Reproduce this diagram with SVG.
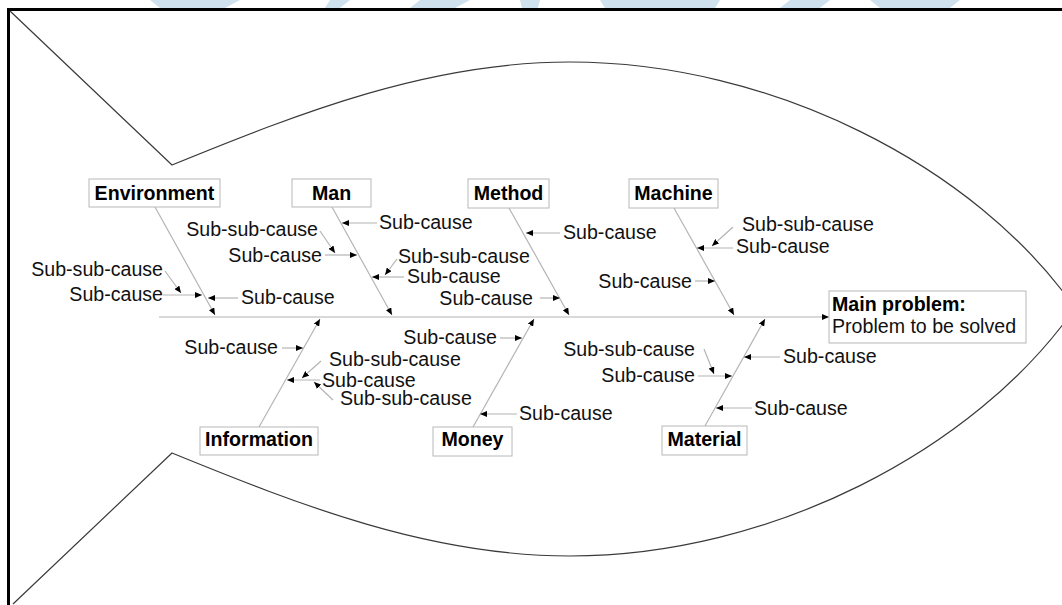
<svg xmlns="http://www.w3.org/2000/svg" width="1062" height="605" viewBox="0 0 1062 605">
<defs>
<marker id="ah" markerUnits="userSpaceOnUse" markerWidth="7" markerHeight="6" refX="7" refY="3" orient="auto"><path d="M0,0 L7,3 L0,6 z" fill="#000"/></marker>
<style>
.t{font-family:"Liberation Sans",Arial,sans-serif;font-size:19.6px;fill:#111}
.b{font-family:"Liberation Sans",Arial,sans-serif;font-size:19.6px;font-weight:bold;fill:#000}
.box{fill:#fff;stroke:#b8b8b8;stroke-width:1}
.bone{stroke:#b4b4b4;stroke-width:1.2;fill:none;marker-end:url(#ah)}
.sub{stroke:#b4b4b4;stroke-width:1.2;fill:none;marker-end:url(#ah)}
.fish{fill:none;stroke:#3a3a3a;stroke-width:1.2}
.e{text-anchor:end}
.m{text-anchor:middle}
</style>
</defs>
<rect width="1062" height="605" fill="#fff"/>
<g id="watermark" fill="#cfe1ed">
<path d="M150,0 L240,0 L225,8 L160,8 z"/>
<path d="M330,0 L350,0 L340,8 L325,8 z"/>
<path d="M420,0 L470,0 L455,8 L410,8 z"/>
<path d="M520,0 L540,0 L538,8 L522,8 z"/>
<path d="M600,0 L720,0 L715,8 L605,8 z"/>
<path d="M790,0 L830,0 L820,8 L780,8 z"/>
<path d="M870,0 L960,0 L950,8 L880,8 z"/>
</g>
<g id="frame" stroke="#000" stroke-width="3" fill="none">
<line x1="7" y1="9.5" x2="1062" y2="9.5"/>
<line x1="8.5" y1="8" x2="8.5" y2="605"/>
</g>
<g id="fish">
<path class="fish" d="M10,11 L172,165 C302,112 430,62 570,62 C770,62 975,165 1075,308 C975,451 770,556 570,556 C430,556 302,506 172,453 L13,604"/>
</g>
<g id="connectors">
<line class="bone" x1="159" y1="317" x2="829" y2="317"/>
<line class="bone" x1="155" y1="207" x2="215" y2="315"/>
<line class="bone" x1="332" y1="207" x2="392" y2="315"/>
<line class="bone" x1="509" y1="208" x2="569" y2="315"/>
<line class="bone" x1="674" y1="208" x2="734" y2="315"/>
<line class="bone" x1="259" y1="427" x2="320" y2="319"/>
<line class="bone" x1="473" y1="427" x2="534" y2="319"/>
<line class="bone" x1="705" y1="426" x2="765" y2="319"/>
<line class="sub" x1="238" y1="298" x2="208" y2="298"/>
<line class="sub" x1="163" y1="295" x2="202" y2="295"/>
<line class="sub" x1="165" y1="271" x2="181" y2="293"/>
<line class="sub" x1="377" y1="223" x2="342" y2="223"/>
<line class="sub" x1="325" y1="255" x2="357" y2="255"/>
<line class="sub" x1="320" y1="231" x2="335" y2="253"/>
<line class="sub" x1="404" y1="277" x2="372" y2="277"/>
<line class="sub" x1="397" y1="259" x2="385" y2="275"/>
<line class="sub" x1="560" y1="233" x2="526" y2="233"/>
<line class="sub" x1="540" y1="298" x2="560" y2="298"/>
<line class="sub" x1="733" y1="248" x2="697" y2="248"/>
<line class="sub" x1="733" y1="227" x2="712" y2="246"/>
<line class="sub" x1="695" y1="281" x2="715" y2="281"/>
<line class="sub" x1="282" y1="348" x2="303" y2="348"/>
<line class="sub" x1="320" y1="380" x2="287" y2="380"/>
<line class="sub" x1="321" y1="361" x2="302" y2="378"/>
<line class="sub" x1="333" y1="400" x2="314" y2="382"/>
<line class="sub" x1="500" y1="338" x2="522" y2="338"/>
<line class="sub" x1="517" y1="414" x2="480" y2="414"/>
<line class="sub" x1="698" y1="376" x2="732" y2="376"/>
<line class="sub" x1="704" y1="349" x2="714" y2="374"/>
<line class="sub" x1="780" y1="357" x2="744" y2="357"/>
<line class="sub" x1="752" y1="408" x2="716" y2="408"/>
</g>
<g id="environment"><rect class="box" x="89" y="179" width="131" height="28"/><text class="b m" x="154.5" y="200">Environment</text></g>
<g id="man"><rect class="box" x="292" y="179" width="79" height="28"/><text class="b m" x="331.5" y="200">Man</text></g>
<g id="method"><rect class="box" x="468" y="179" width="81" height="29"/><text class="b m" x="508.5" y="200">Method</text></g>
<g id="machine"><rect class="box" x="629" y="179" width="89" height="29"/><text class="b m" x="673.5" y="200">Machine</text></g>
<g id="information"><rect class="box" x="200" y="427" width="118" height="28"/><text class="b m" x="259" y="446">Information</text></g>
<g id="money"><rect class="box" x="433" y="427" width="79" height="29"/><text class="b m" x="472.5" y="446">Money</text></g>
<g id="material"><rect class="box" x="662" y="426" width="85" height="29"/><text class="b m" x="704.5" y="446">Material</text></g>
<g id="main-problem"><rect class="box" x="829" y="291" width="197" height="52"/><text class="b" x="832" y="311">Main problem:</text><text class="t" x="832" y="333">Problem to be solved</text></g>
<g id="sub-causes">
<text class="t e" x="163" y="275.5">Sub-sub-cause</text>
<text class="t e" x="163" y="301">Sub-cause</text>
<text class="t" x="241" y="304">Sub-cause</text>
<text class="t e" x="318" y="236">Sub-sub-cause</text>
<text class="t e" x="322" y="261.5">Sub-cause</text>
<text class="t" x="379" y="229">Sub-cause</text>
<text class="t" x="398" y="263">Sub-sub-cause</text>
<text class="t" x="407" y="283">Sub-cause</text>
<text class="t e" x="533" y="305">Sub-cause</text>
<text class="t" x="563" y="239">Sub-cause</text>
<text class="t" x="742" y="231">Sub-sub-cause</text>
<text class="t" x="736" y="253">Sub-cause</text>
<text class="t e" x="692" y="287.5">Sub-cause</text>
<text class="t e" x="278" y="354">Sub-cause</text>
<text class="t" x="329" y="366">Sub-sub-cause</text>
<text class="t" x="322" y="386.5">Sub-cause</text>
<text class="t" x="340" y="405">Sub-sub-cause</text>
<text class="t e" x="497" y="344">Sub-cause</text>
<text class="t" x="519" y="420">Sub-cause</text>
<text class="t e" x="695" y="356">Sub-sub-cause</text>
<text class="t e" x="695" y="381.5">Sub-cause</text>
<text class="t" x="783" y="363">Sub-cause</text>
<text class="t" x="754" y="415">Sub-cause</text>
</g>
</svg>
